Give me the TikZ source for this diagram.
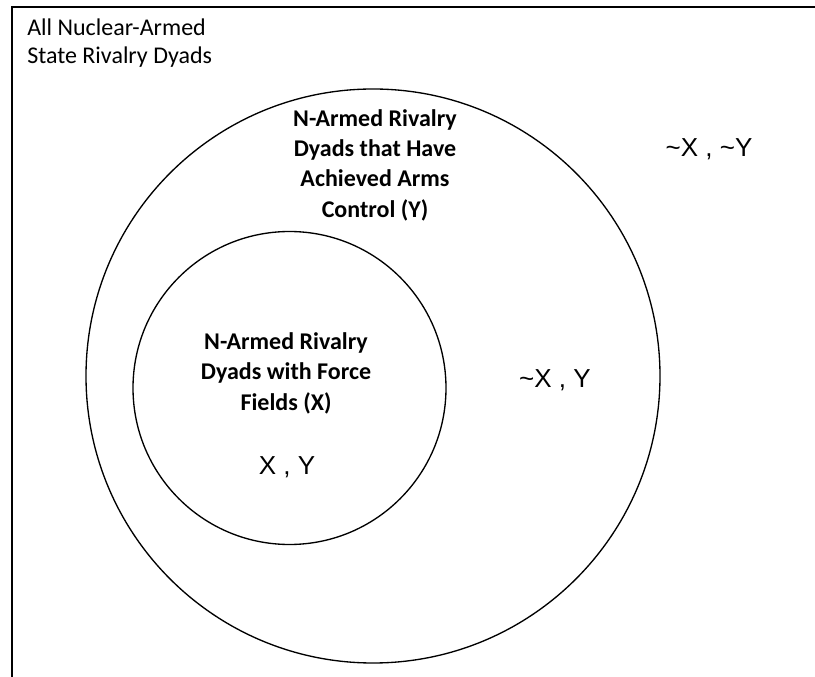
\documentclass[tikz,border=0pt]{standalone}
\usepackage{fontspec}
\setmainfont{Carlito}
\newfontfamily\arialfont{Liberation Sans}
\usepackage{tikz}

\begin{document}
\begin{tikzpicture}[x=0.75pt,y=0.75pt,yscale=-1,xscale=1,
  setname/.style={font=\bfseries\fontsize{18}{22.8}\selectfont, align=center, inner sep=0pt},
  region/.style={font=\arialfont\fontsize{19.5}{23}\selectfont, anchor=base, inner sep=0pt}]

\useasboundingbox (0,0) rectangle (815,677);

\draw [line width=1.3pt]  (12,677) -- (12,7) -- (815,7) ;

\draw [line width=1pt]  (373,376) circle (287) ;
\draw [line width=1pt]  (289.5,388) circle (156.5) ;

\node (univ) [anchor=west, align=left, inner sep=0pt, font=\fontsize{18}{21}\selectfont] at (27,43) {All Nuclear-Armed\\State Rivalry Dyads};

\node (ysetname) [setname] at (375,165) {N-Armed Rivalry\\Dyads that Have\\Achieved Arms\\Control (Y)};
\node (xsetname) [setname] at (286,373) {N-Armed Rivalry\\Dyads with Force\\Fields (X)};

\node (xy) [region] at (287,475) {X , Y};
\node (nxy) [region] at (555,388) {\textasciitilde X , Y};
\node (nxny) [region] at (709,157) {\textasciitilde X , \textasciitilde Y};

\end{tikzpicture}
\end{document}
